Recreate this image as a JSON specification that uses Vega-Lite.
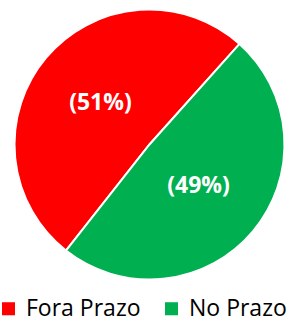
{
  "$schema": "https://vega.github.io/schema/vega-lite/v6.json",
  "width": 295,
  "height": 289,
  "autosize": {"type": "none"},
  "padding": {"left": 2, "top": 0, "right": 0, "bottom": 33},
  "background": "white",
  "data": {"values": [
    {"cat": "Fora Prazo", "v": 51, "o": 2, "label": "(51%)"},
    {"cat": "No Prazo", "v": 49, "o": 1, "label": "(49%)"}
  ]},
  "encoding": {
    "theta": {"field": "v", "type": "quantitative", "stack": true, "scale": {"range": [0.73, 7.0132]}},
    "order": {"field": "o", "type": "quantitative"},
    "color": {
      "field": "cat", "type": "nominal",
      "scale": {"domain": ["Fora Prazo", "No Prazo"], "range": ["#FF0000", "#00B050"]},
      "legend": {
        "orient": "none", "legendX": -5, "legendY": 297, "direction": "horizontal",
        "title": null, "symbolType": "square", "symbolSize": 170, "symbolStrokeWidth": 0,
        "labelFont": "Open Sans", "labelFontSize": 23, "labelColor": "#000000",
        "labelOffset": 6, "columnPadding": 19, "padding": 0, "labelLimit": 300
      }
    }
  },
  "layer": [
    {"mark": {"type": "arc", "outerRadius": 135, "stroke": "white", "strokeWidth": 2}},
    {"mark": {"type": "text", "radius": 64, "font": "Open Sans", "fontWeight": "bold", "fontSize": 23, "fill": "white"},
     "encoding": {"text": {"field": "label"}, "color": {"value": "white"}}}
  ]
}
